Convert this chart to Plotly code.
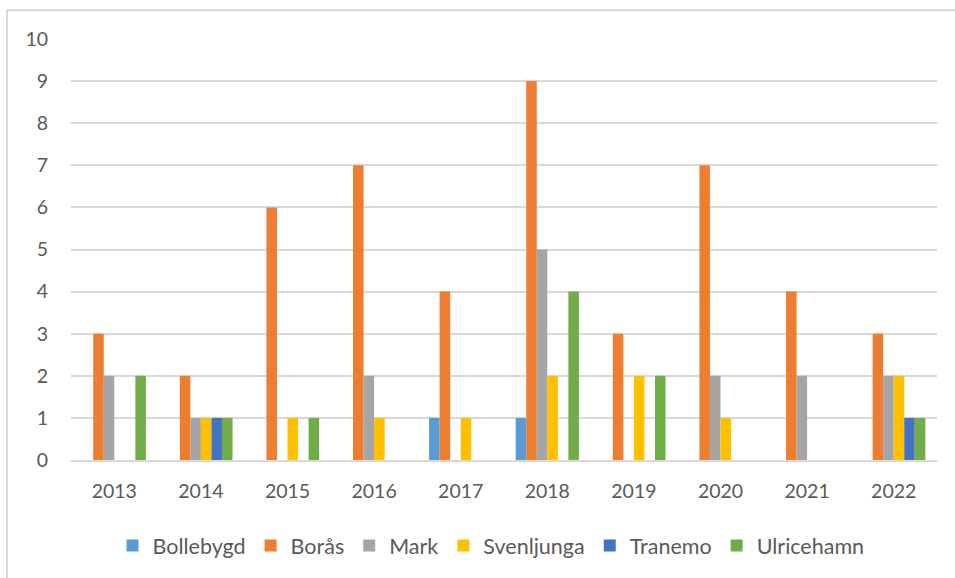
import plotly.graph_objects as go

years = ["2013", "2014", "2015", "2016", "2017", "2018", "2019", "2020", "2021", "2022"]
bollebygd = [0, 0, 0, 0, 1, 1, 0, 0, 0, 0]
boras = [3, 2, 6, 7, 4, 9, 3, 7, 4, 3]
mark = [2, 1, 0, 2, 0, 5, 0, 2, 2, 2]
svenljunga = [0, 1, 1, 1, 1, 2, 2, 1, 0, 2]
tranemo = [0, 1, 0, 0, 0, 0, 0, 0, 0, 1]
ulricehamn = [2, 1, 1, 0, 0, 4, 2, 0, 0, 1]

series = [
    ("Bollebygd", bollebygd, "#5B9BD5"),
    ("Borås", boras, "#ED7D31"),
    ("Mark", mark, "#A5A5A5"),
    ("Svenljunga", svenljunga, "#FFC000"),
    ("Tranemo", tranemo, "#4472C4"),
    ("Ulricehamn", ulricehamn, "#70AD47"),
]

fig = go.Figure()
for name, vals, color in series:
    fig.add_trace(go.Bar(x=years, y=vals, name=name, marker_color=color,
                         marker_line_width=0))

font = dict(family="Lato, 'Open Sans', sans-serif", size=19.5, color="#595959")
fig.update_layout(
    width=955, height=578,
    barmode="group", bargap=0.27, bargroupgap=0,
    plot_bgcolor="white", paper_bgcolor="white",
    margin=dict(l=71, r=18, t=39, b=115),
    font=font,
    showlegend=True,
    legend=dict(orientation="h", x=0.485, xanchor="center", y=-0.203, yanchor="middle",
                font=dict(size=21.5, color="#595959"), itemwidth=30,
                traceorder="normal"),
    xaxis=dict(showgrid=False, showline=True, linecolor="#D9D9D9", linewidth=1.5,
               ticks="", tickfont=dict(size=19.5), ticklabelstandoff=13),
    yaxis=dict(range=[0, 10], dtick=1, showgrid=True, gridcolor="#D9D9D9", gridwidth=1.5,
               zeroline=False, showline=False, ticks="", tickfont=dict(size=19.5),
               ticklabelstandoff=22),
    shapes=[dict(type="rect", xref="paper", yref="paper",
                 x0=-0.0739, x1=1.3, y0=-0.5, y1=1.0684,
                 line=dict(color="#D9D9D9", width=2), fillcolor="rgba(0,0,0,0)")],
)

fig.write_html("out.html", config={"displayModeBar": False},
               post_script="document.body.style.margin='0';")
